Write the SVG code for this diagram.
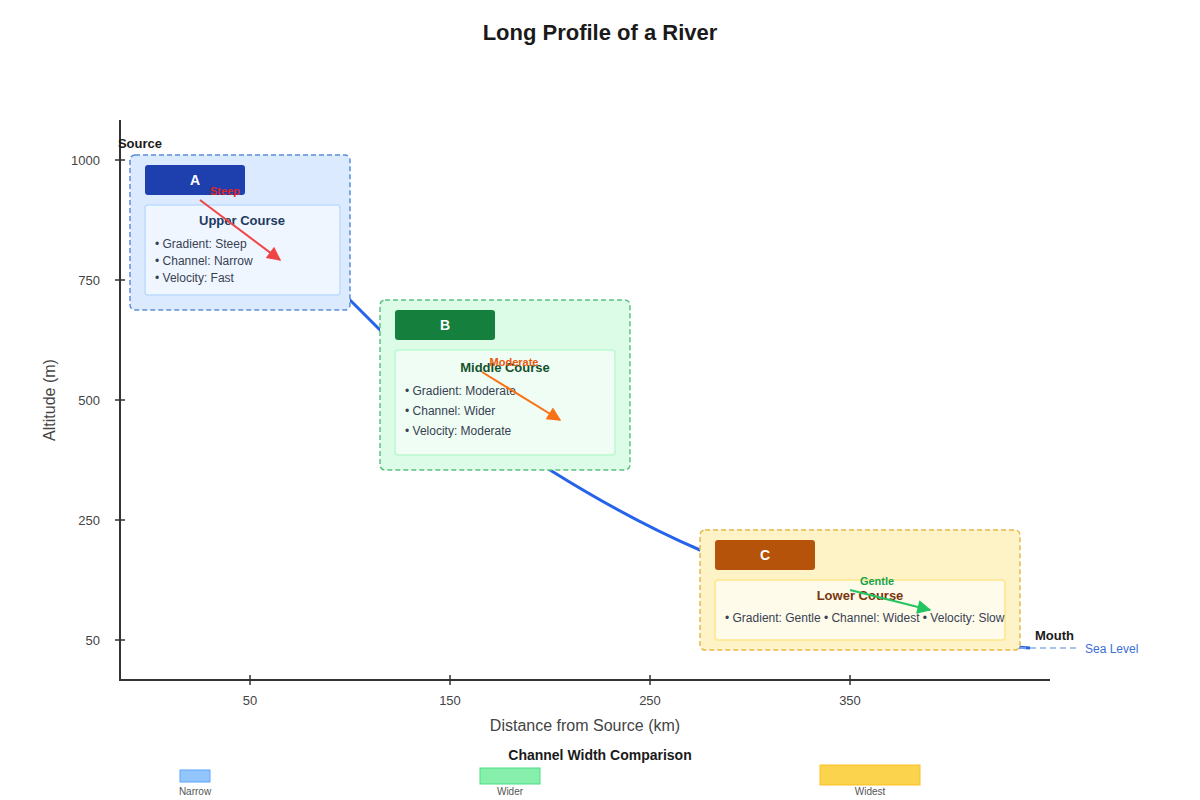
<svg xmlns="http://www.w3.org/2000/svg" width="1200" height="800" viewBox="0 0 1200 800">
<style>
text{font-family:"Liberation Sans",Arial,sans-serif}
.title{font-size:22px;font-weight:bold;fill:#1a1a1a}
.axis{stroke:#333;stroke-width:2;fill:none}
.tick{stroke:#333;stroke-width:1.5}
.tl{font-size:13px;fill:#444}
.at{font-size:16px;fill:#444}
.hdr{font-size:14px;font-weight:bold;fill:#fff}
.ct{font-size:13px;font-weight:bold}
.bl{font-size:12px;fill:#374151}
.ind{font-size:11px;font-weight:bold}
.lbl{font-size:13px;font-weight:bold;fill:#1a1a1a}
.leg{font-size:10px;fill:#555}
</style>
<defs>
<marker id="mr" viewBox="0 0 10 10" refX="9" refY="5" markerWidth="8" markerHeight="7" orient="auto"><path d="M0,0 L10,5 L0,10 z" fill="#ef4444"/></marker>
<marker id="mo" viewBox="0 0 10 10" refX="9" refY="5" markerWidth="8" markerHeight="7" orient="auto"><path d="M0,0 L10,5 L0,10 z" fill="#f97316"/></marker>
<marker id="mg" viewBox="0 0 10 10" refX="9" refY="5" markerWidth="8" markerHeight="7" orient="auto"><path d="M0,0 L10,5 L0,10 z" fill="#22c55e"/></marker>
</defs>
<rect width="1200" height="800" fill="#fff"/>
<text class="title" x="600" y="40" text-anchor="middle">Long Profile of a River</text>

<g id="axes">
<path class="axis" d="M120,120 L120,680 L1050,680"/>
<g class="tick">
<line x1="115" y1="160" x2="125" y2="160"/><line x1="115" y1="280" x2="125" y2="280"/><line x1="115" y1="400" x2="125" y2="400"/><line x1="115" y1="520" x2="125" y2="520"/><line x1="115" y1="640" x2="125" y2="640"/>
<line x1="250" y1="675" x2="250" y2="685"/><line x1="450" y1="675" x2="450" y2="685"/><line x1="650" y1="675" x2="650" y2="685"/><line x1="850" y1="675" x2="850" y2="685"/>
</g>
<g class="tl" text-anchor="end">
<text x="100" y="165">1000</text><text x="100" y="285">750</text><text x="100" y="405">500</text><text x="100" y="525">250</text><text x="100" y="645">50</text>
</g>
<g class="tl" text-anchor="middle">
<text x="250" y="705">50</text><text x="450" y="705">150</text><text x="650" y="705">250</text><text x="850" y="705">350</text>
</g>
<text class="at" x="585" y="731" text-anchor="middle">Distance from Source (km)</text>
<text class="at" x="55" y="400" text-anchor="middle" transform="rotate(-90 55 400)">Altitude (m)</text>
</g>

<g id="connectors">
<path d="M130,160 Q260,220 350,300 L380,330 Q470,415 550,470 Q630,520 700,550 Q900,640 1030,648" fill="none" stroke="#2563eb" stroke-width="3"/>
<line x1="1020" y1="648" x2="1080" y2="648" stroke="#8fb0e6" stroke-width="1.5" stroke-dasharray="6,4"/>
</g>

<g id="nodeA">
<rect x="130" y="155" width="220" height="155" rx="5" fill="#dbeafe" stroke="#5b8fd9" stroke-width="1.5" stroke-dasharray="5,3"/>
<rect x="145" y="165" width="100" height="30" rx="3" fill="#1e40af"/>
<text class="hdr" x="195" y="185" text-anchor="middle">A</text>
<rect x="145" y="205" width="195" height="90" rx="3" fill="#eff6ff" stroke="#bfdbfe" stroke-width="1.5"/>
<text class="ct" x="242" y="225" text-anchor="middle" fill="#1e3a5f">Upper Course</text>
<text class="bl" x="155" y="248">• Gradient: Steep</text>
<text class="bl" x="155" y="265">• Channel: Narrow</text>
<text class="bl" x="155" y="282">• Velocity: Fast</text>
<line x1="200" y1="200" x2="280" y2="260" stroke="#ef4444" stroke-width="2" marker-end="url(#mr)"/>
<text class="ind" x="225" y="195" text-anchor="middle" fill="#dc2626">Steep</text>
</g>

<g id="nodeB">
<rect x="380" y="300" width="250" height="170" rx="5" fill="#dcfce7" stroke="#5cc282" stroke-width="1.5" stroke-dasharray="5,3"/>
<rect x="395" y="310" width="100" height="30" rx="3" fill="#15803d"/>
<text class="hdr" x="445" y="330" text-anchor="middle">B</text>
<rect x="395" y="350" width="220" height="105" rx="3" fill="#f0fdf4" stroke="#bbf7d0" stroke-width="1.5"/>
<text class="ct" x="505" y="372" text-anchor="middle" fill="#14532d">Middle Course</text>
<text class="bl" x="405" y="395">• Gradient: Moderate</text>
<text class="bl" x="405" y="415">• Channel: Wider</text>
<text class="bl" x="405" y="435">• Velocity: Moderate</text>
<line x1="482" y1="372" x2="560" y2="420" stroke="#f97316" stroke-width="2" marker-end="url(#mo)"/>
<text class="ind" x="514" y="366" text-anchor="middle" fill="#ea580c">Moderate</text>
</g>

<g id="nodeC">
<rect x="700" y="530" width="320" height="120" rx="5" fill="#fef3c7" stroke="#e6b84a" stroke-width="1.5" stroke-dasharray="5,3"/>
<rect x="715" y="540" width="100" height="30" rx="3" fill="#b45309"/>
<text class="hdr" x="765" y="560" text-anchor="middle">C</text>
<rect x="715" y="580" width="290" height="60" rx="3" fill="#fffbeb" stroke="#fde68a" stroke-width="1.5"/>
<text class="ct" x="860" y="600" text-anchor="middle" fill="#78350f">Lower Course</text>
<text class="bl" x="725" y="622">• Gradient: Gentle • Channel: Widest • Velocity: Slow</text>
<line x1="850" y1="590" x2="930" y2="610" stroke="#22c55e" stroke-width="2" marker-end="url(#mg)"/>
<text class="ind" x="877" y="585" text-anchor="middle" fill="#16a34a">Gentle</text>
</g>

<g id="labels">
<text class="lbl" x="140" y="148" text-anchor="middle">Source</text>
<text class="lbl" x="1035" y="640">Mouth</text>
<text x="1085" y="653" font-size="12" fill="#3b6fd4">Sea Level</text>
</g>

<g id="legend">
<text x="600" y="760" text-anchor="middle" font-size="14" font-weight="bold" fill="#1a1a1a">Channel Width Comparison</text>
<rect x="180" y="770" width="30" height="12" fill="#93c5fd" stroke="#60a5fa"/>
<text class="leg" x="195" y="795" text-anchor="middle">Narrow</text>
<rect x="480" y="768" width="60" height="16" fill="#86efac" stroke="#4ade80"/>
<text class="leg" x="510" y="795" text-anchor="middle">Wider</text>
<rect x="820" y="765" width="100" height="20" fill="#fcd34d" stroke="#fbbf24"/>
<text class="leg" x="870" y="795" text-anchor="middle">Widest</text>
</g>
</svg>
